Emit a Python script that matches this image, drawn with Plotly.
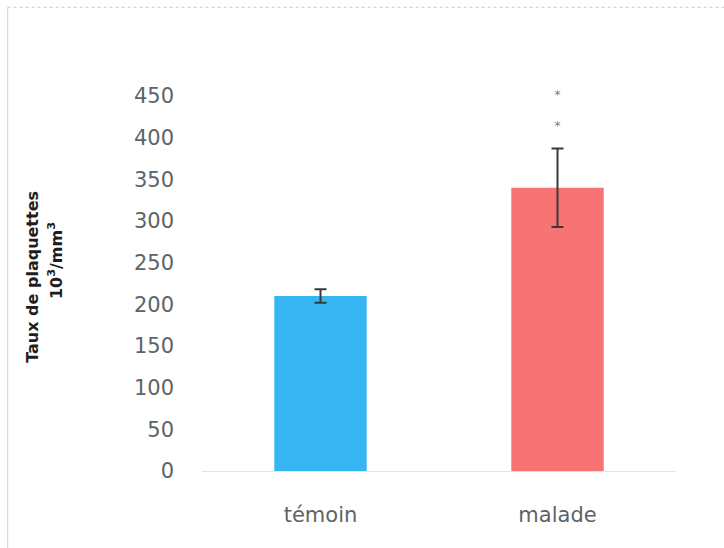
import plotly.graph_objects as go

# Platelet counts (10^3/mm^3): mean and standard error per group
groups = ["témoin", "malade"]
means = [210, 340]
errors = [8, 47]
bar_colors = ["#38b6f4", "#f87373"]
y_ticks = [0, 50, 100, 150, 200, 250, 300, 350, 400, 450]
# Significance marks above the "malade" bar
star_groups = ["malade", "malade"]
star_levels = [450, 413]

fig = go.Figure()
fig.add_trace(go.Bar(
    x=groups,
    y=means,
    marker=dict(color=bar_colors, line=dict(width=0)),
    width=0.39,
    error_y=dict(type="data", array=errors, visible=True,
                 color="#3a3a3a", thickness=2, width=6),
    showlegend=False,
))

fig.add_trace(go.Scatter(
    x=star_groups, y=star_levels, mode="text", text=["*", "*"],
    textposition="middle center", cliponaxis=False, showlegend=False,
    textfont=dict(family="DejaVu Sans", size=12, color="#6f8088"),
    hoverinfo="skip",
))

# y-axis title on two lines
fig.add_annotation(xref="paper", yref="paper", x=-0.3565, y=0.515,
                   xanchor="center", yanchor="middle",
                   text="<b>Taux de plaquettes</b>", textangle=-90, showarrow=False,
                   font=dict(family="DejaVu Sans", size=16, color="#1e1e1e"))
fig.add_annotation(xref="paper", yref="paper", x=-0.31, y=0.557,
                   xanchor="center", yanchor="middle",
                   text="<b>10<sup>3</sup>/mm<sup>3</sup></b>", textangle=-90, showarrow=False,
                   font=dict(family="DejaVu Sans", size=16, color="#1e1e1e"))

# light frame around the chart
fig.add_shape(type="line", xref="paper", yref="paper",
              x0=-0.41, x1=1.2, y0=1.23, y1=1.23,
              line=dict(color="#c8c8c8", width=1, dash="dot"))
fig.add_shape(type="line", xref="paper", yref="paper",
              x0=-0.41, x1=-0.41, y0=1.23, y1=-0.3,
              line=dict(color="#d4d4d4", width=1))

fig.update_layout(
    width=724, height=548,
    margin=dict(l=202, r=48, t=94, b=77),
    paper_bgcolor="white", plot_bgcolor="white",
    bargap=0.61,
    font=dict(family="DejaVu Sans", color="#5c6468"),
    xaxis=dict(showgrid=False, showline=True, linecolor="#e4e4e4",
               linewidth=1, ticks="", tickfont=dict(size=21, color="#5c6468"),
               ticklabelstandoff=25),
    yaxis=dict(range=[0, 452.5], tickvals=y_ticks, showgrid=False,
               showline=False, zeroline=False, ticks="",
               tickfont=dict(size=21, color="#5c6468"), ticklabelstandoff=27),
)

fig.write_html("out.html")
